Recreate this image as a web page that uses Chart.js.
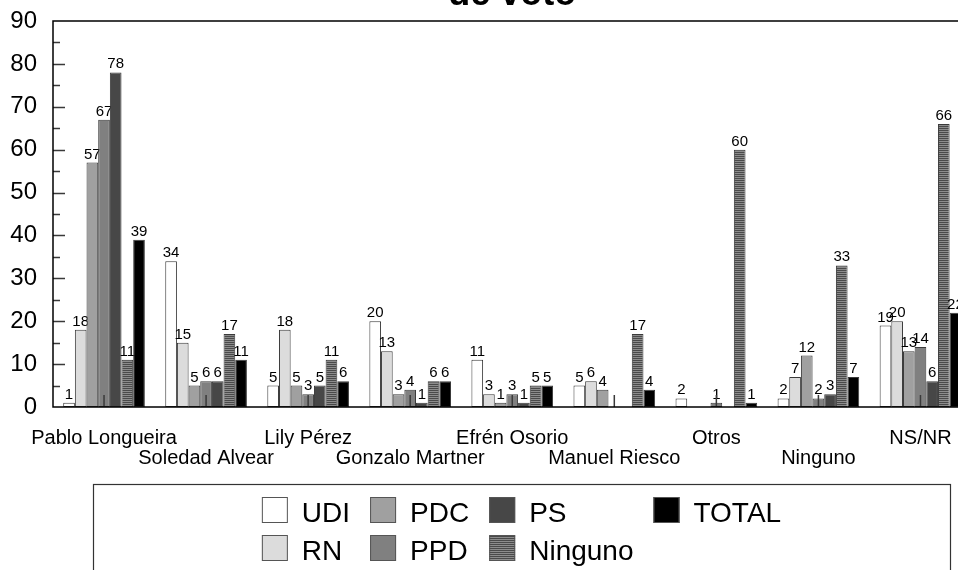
<!DOCTYPE html>
<html>
<head>
<meta charset="utf-8">
<title>de voto</title>
<script src="https://cdn.jsdelivr.net/npm/chart.js@4.4.1/dist/chart.umd.min.js"></script>
<style>
    html, body { margin: 0; padding: 0; background: #fff; }
    #wrap { width: 958px; height: 570px; overflow: hidden; position: relative; }
    #chart { position: absolute; left: 0; top: 0; }
</style>
</head>
<body>
<div id="wrap"><canvas id="chart" width="980" height="570"></canvas></div>
<script>
"use strict";

var candidatos = ["Pablo Longueira", "Soledad Alvear", "Lily Pérez", "Gonzalo Martner", "Efrén Osorio", "Manuel Riesco", "Otros", "Ninguno", "NS/NR"];

var udi = [1, 34, 5, 20, 11, 5, 2, 2, 19];
var rn = [18, 15, 18, 13, 3, 6, 0, 7, 20];
var pdc = [57, 5, 5, 3, 1, 4, 0, 12, 13];
var ppd = [67, 6, 3, 4, 3, 0, 1, 2, 14];
var ps = [78, 6, 5, 1, 1, 0, 0, 3, 6];
var ninguno = [11, 17, 11, 6, 5, 17, 60, 33, 66];
var total = [39, 11, 6, 6, 5, 4, 1, 7, 22];

var seriesNames = ["UDI", "RN", "PDC", "PPD", "PS", "Ninguno", "TOTAL"];
var yMin = 0, yMax = 90, yStep = 10, yMinorStep = 5;
var titleText = "de voto";

var FONT = '"Liberation Sans", Arial, Helvetica, sans-serif';
Chart.defaults.font.family = FONT;

var canvas = document.getElementById("chart");
var ctx = canvas.getContext("2d");

/* fine horizontal stripes for the "Ninguno" series */
var makeStripes = function () {
    var pc = document.createElement("canvas");
    pc.width = 4;
    pc.height = 2;
    var p = pc.getContext("2d");
    p.fillStyle = "#8c8c8c";
    p.fillRect(0, 0, 4, 2);
    p.fillStyle = "#4a4a4a";
    p.fillRect(0, 0, 4, 1);
    return ctx.createPattern(pc, "repeat");
};

var fills = ["#ffffff", "#dcdcdc", "#a0a0a0", "#808080", "#474747", makeStripes(), "#000000"];
var series = [udi, rn, pdc, ppd, ps, ninguno, total];

var datasets = series.map(function (d, i) {
    return {
        label: seriesNames[i],
        data: d,
        backgroundColor: fills[i],
        borderColor: "#3a3a3a",
        borderWidth: 1,
        borderSkipped: false
    };
});

/* draws bars left to right with their value labels, then axes, title and legend */
var chartDecor = {
    id: "chartDecor",
    beforeDatasetsDraw: function (chart) {
        var c = chart.ctx;
        chart.data.datasets.forEach(function (ds, i) {
            var meta = chart.getDatasetMeta(i);
            meta.controller.draw();
            c.save();
            c.font = "15px " + FONT;
            c.fillStyle = "#000";
            c.textAlign = "center";
            c.textBaseline = "alphabetic";
            meta.data.forEach(function (bar, j) {
                var v = ds.data[j];
                if (v) {
                    c.fillText(String(v), bar.x, bar.y - 4);
                }
            });
            c.restore();
        });
        return false;
    },
    afterDraw: function (chart) {
        var c = chart.ctx;
        var a = chart.chartArea;
        var y = chart.scales.y;
        var x = chart.scales.x;
        c.save();
        /* tick marks drawn inside the plot */
        c.strokeStyle = "#3a3a3a";
        c.lineWidth = 1.5;
        c.beginPath();
        for (var v = yMin + yMinorStep; v < yMax; v += yMinorStep) {
            var py = Math.round(y.getPixelForValue(v)) + 0.5;
            var len = (v % yStep === 0) ? 12 : 7;
            c.moveTo(a.left, py);
            c.lineTo(a.left + len, py);
        }
        for (var k = 0; k < candidatos.length; k++) {
            var px = x.getPixelForValue(k);
            c.moveTo(px, a.bottom);
            c.lineTo(px, a.bottom - 12);
        }
        c.stroke();
        /* frame */
        c.strokeStyle = "#000";
        c.lineWidth = 1.5;
        c.beginPath();
        c.moveTo(chart.width, a.top);
        c.lineTo(a.left, a.top);
        c.lineTo(a.left, a.bottom);
        c.lineTo(chart.width, a.bottom);
        c.stroke();

        c.fillStyle = "#000";
        c.textAlign = "center";
        c.textBaseline = "alphabetic";
        c.font = "bold 36px " + FONT;
        c.fillText(titleText, (a.left + a.right) / 2, 5);

        /* legend box, laid out column by column */
        var box = { left: 93, top: 484, right: 950 };
        var sq = 26, gap = 14, colGap = 20, rowTops = [497, 535];
        c.strokeStyle = "#333";
        c.lineWidth = 1.2;
        c.strokeRect(box.left + 0.5, box.top + 0.5, box.right - box.left, 200);
        c.font = "28px " + FONT;
        var ds = chart.data.datasets;
        var cols = [];
        for (var i = 0; i < ds.length; i += 2) {
            var items = [i];
            if (i + 1 < ds.length) {
                items.push(i + 1);
            }
            var w = 0;
            items.forEach(function (n) {
                w = Math.max(w, c.measureText(ds[n].label).width);
            });
            cols.push({ items: items, width: sq + gap + w });
        }
        var full = cols.reduce(function (s, col) { return s + col.width; }, 0) + colGap * (cols.length - 1);
        var cx = (box.left + box.right) / 2 - full / 2;
        c.textAlign = "left";
        cols.forEach(function (col) {
            col.items.forEach(function (n, r) {
                var top = rowTops[r];
                c.fillStyle = ds[n].backgroundColor;
                c.fillRect(cx, top, sq, sq);
                c.strokeStyle = "#555";
                c.lineWidth = 1;
                c.strokeRect(cx + 0.5, top + 0.5, sq - 1, sq - 1);
                c.fillStyle = "#000";
                c.fillText(ds[n].label, cx + sq + gap, top + 25);
            });
            cx += col.width + colGap;
        });
        c.restore();
    }
};

var chart = new Chart(canvas, {
    type: "bar",
    data: {
        labels: candidatos,
        datasets: datasets
    },
    options: {
        responsive: false,
        animation: false,
        devicePixelRatio: 1,
        layout: { padding: { left: 0, top: 21, right: 8.5, bottom: 0 } },
        datasets: { bar: { categoryPercentage: 0.8, barPercentage: 1 } },
        plugins: {
            legend: { display: false },
            title: { display: false },
            tooltip: { enabled: false }
        },
        scales: {
            x: {
                offset: true,
                grid: { display: false, drawTicks: false },
                border: { display: false },
                ticks: {
                    autoSkip: false,
                    maxRotation: 0,
                    padding: 21,
                    color: "#000",
                    font: { size: 20, lineHeight: 1 },
                    callback: function (v, i) {
                        return i % 2 === 0 ? [candidatos[i], ""] : ["", candidatos[i]];
                    }
                },
                afterFit: function (scale) {
                    scale.height = 163;
                    scale.paddingLeft = 0;
                    scale.paddingRight = 0;
                }
            },
            y: {
                min: yMin,
                max: yMax,
                grid: { display: false, drawTicks: false },
                border: { display: false },
                ticks: {
                    stepSize: yStep,
                    padding: 16,
                    color: "#000",
                    font: { size: 24 }
                },
                afterFit: function (scale) {
                    scale.width = 53;
                    scale.paddingTop = 0;
                    scale.paddingBottom = 0;
                }
            }
        }
    },
    plugins: [chartDecor]
});
</script>
</body>
</html>
